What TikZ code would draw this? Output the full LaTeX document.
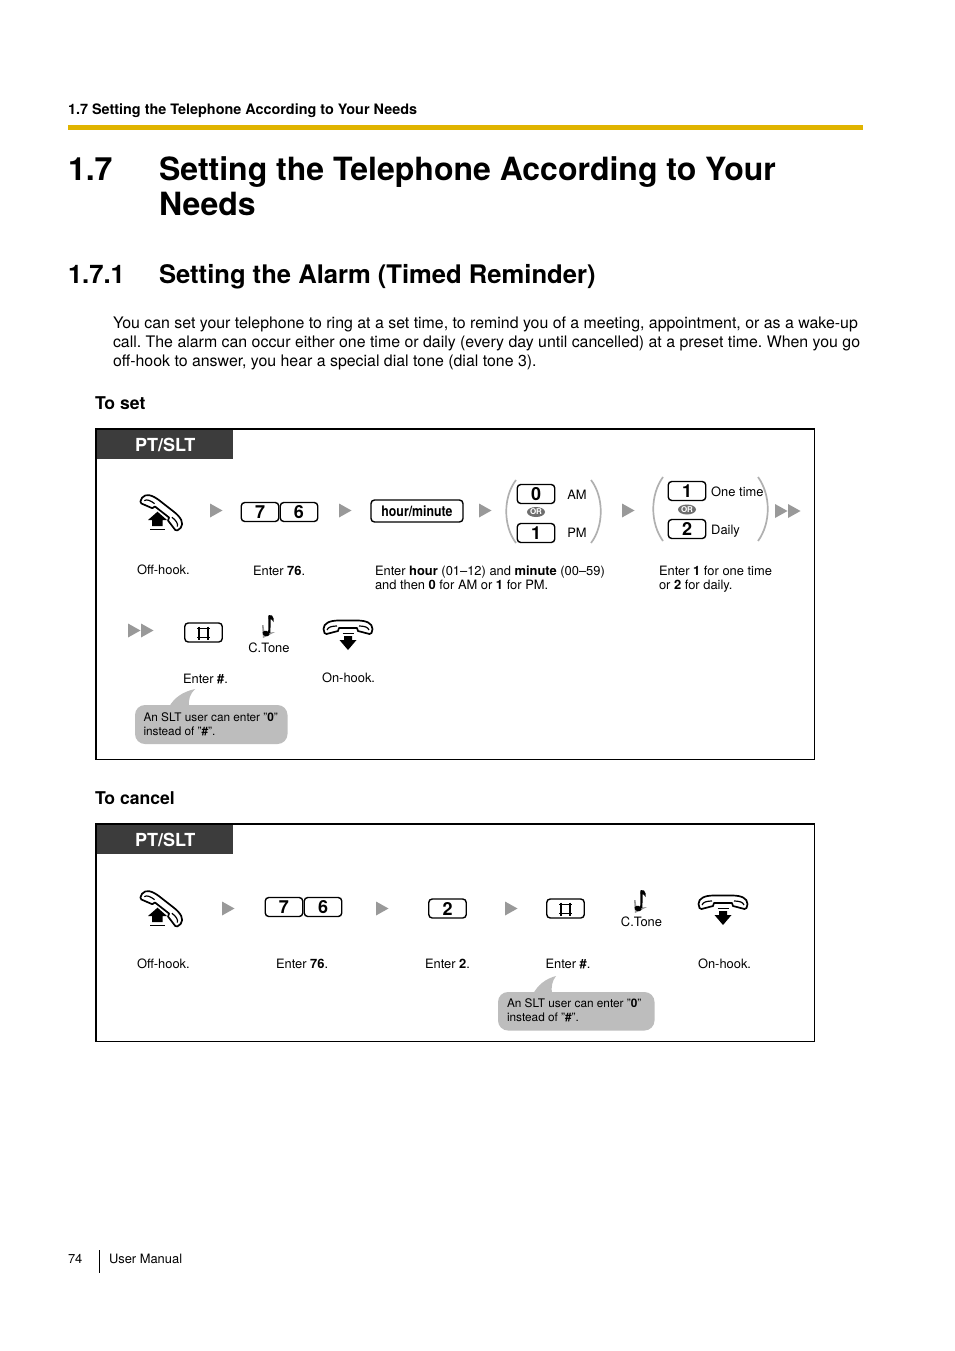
\documentclass[tikz,border=0pt]{standalone}
\usepackage{fontspec}
\usepackage{graphicx}
\setmainfont{TeX Gyre Heros}
\usetikzlibrary{shapes.geometric}
\definecolor{rulegold}{HTML}{E0B400}
\definecolor{headdark}{HTML}{3C3C3C}
\definecolor{arrowgray}{HTML}{999999}
\definecolor{bubblegray}{HTML}{BDBDBD}
\definecolor{parengray}{HTML}{B0B0B0}
\definecolor{orgray}{HTML}{6E6E6E}
\newcommand{\fsz}[1]{\fontsize{#1}{#1}\selectfont}
\frenchspacing
\tikzset{
  x=1pt,y=-1pt,
  txt/.style={anchor=base west,inner sep=0pt,outer sep=0pt,text=black},
  captxt/.style={txt,font=\fsz{12.9}},
  sidecap/.style={anchor=base west,inner sep=0pt,font=\fsz{12.9}},
  midcap/.style={anchor=base,inner sep=0pt,font=\fsz{12.9}},
  bubtxt/.style={txt,font=\fsz{11.8}},
  headtxt/.style={txt,font=\bfseries\fsz{17.6}},
  keybox/.style={draw=black,line width=1.4pt,rounded corners=3.5pt,fill=white,minimum width=37.5pt,minimum height=19pt,inner sep=0pt,font=\bfseries\fsz{18}},
  hourkey/.style={keybox,minimum width=92pt,minimum height=22pt,font=\bfseries\fsz{14.5}},
  orbox/.style={ellipse,fill=orgray,text=white,minimum width=18pt,minimum height=10pt,inner sep=0pt,font=\bfseries\fsz{8}},
  parenline/.style={draw=parengray,line width=1.7pt},
  framebox/.style={draw=black,line width=1.1pt},
  headbox/.style={fill=headdark,text=white,minimum width=136pt,minimum height=29pt,inner sep=0pt,font=\bfseries\fsz{18}},
  bubble/.style={fill=bubblegray,rounded corners=10pt},
  tri/.pic={\fill[arrowgray] (-6,-7) -- (6.5,0) -- (-6,7) -- cycle;},
  handset/.pic={
    \draw[line width=1.7pt,fill=white,line join=round]
      (-24.5,1) .. controls (-24.5,-5) and (-18,-7.5) .. (-9,-7.5)
      -- (9,-7.5) .. controls (18,-7.5) and (24.5,-5) .. (24.5,1)
      -- (23.5,5) -- (21.5,6) -- (10,3) -- (9,0) -- (-9,0) -- (-10,3) -- (-21.5,6) -- (-23.5,5) -- cycle;
    \draw[line width=1.2pt] (-21,2) .. controls (-20,-1) and (-16,-2) .. (-11,-2);
    \draw[line width=1.2pt] (21,2) .. controls (20,-1) and (16,-2) .. (11,-2);
  },
  onhook/.pic={
    \pic at (0,0) {handset};
    \draw[line width=1.4pt] (-5.5,5.5) -- (6,5.5);
    \fill[black] (-4,8) -- (4,8) -- (4,12) -- (8.5,12) -- (0,22) -- (-8.5,12) -- (-4,12) -- cycle;
  },
  offhook/.pic={
    \pic[rotate=-38] at (0,-1) {handset};
    \fill[black] (-4.5,-1.3) -- (5,7) -- (0.5,7) -- (0.5,13) -- (-10,13) -- (-10,7) -- (-14,7) -- cycle;
    \draw[line width=1.3pt] (-12,16.5) -- (3,16.5);
  },
  hashmark/.pic={
    \draw[line width=1.6pt] (-4.3,-6.5) -- (-4.3,6.5) (4.3,-6.5) -- (4.3,6.5) (-6.2,-4.4) -- (6.2,-4.4) (-6.2,4.4) -- (6.2,4.4);
  },
  notemark/.pic={
    \fill[arrowgray] (-7,0) -- (-5.5,0) -- (-4.5,8) -- (6,7) -- (-6,13) -- cycle;
    \fill[black,rotate around={-20:(-3,8.5)}] (-3,8.5) ellipse (3.6 and 2.7);
    \draw[line width=2.2pt] (0.3,8) -- (0.6,-9);
    \fill[black] (-0.5,-10) -- (3,-9.5) .. controls (5,-8) and (5,-5) .. (4.5,-3) .. controls (4,-5) and (2.5,-6) .. (-0.5,-6) -- cycle;
  },
}
\begin{document}
\begin{tikzpicture}
\useasboundingbox (0,0) rectangle (954,1351);
\fill[white] (0,0) rectangle (954,1351);

% page header
\node[txt,font=\bfseries\fsz{14.4}] (runhead) at (68,114.5) {1.7 Setting the Telephone According to Your Needs};
\fill[rulegold] (68,125) rectangle (863,130);

% titles
\node[txt,font=\bfseries\fsz{32}] (secno) at (68,181) {1.7};
\node[txt,font=\bfseries\fsz{32}] (sect1) at (159,181) {Setting the Telephone According to Your};
\node[txt,font=\bfseries\fsz{32}] (sect2) at (159,215.5) {Needs};
\node[txt,font=\bfseries\fsz{25.6}] (subno) at (68,283.5) {1.7.1};
\node[txt,font=\bfseries\fsz{25.6}] (subt) at (159,283.5) {Setting the Alarm (Timed Reminder)};

% body
\node[txt,font=\fsz{15.9}] (b1) at (113,328) {You can set your telephone to ring at a set time, to remind you of a meeting, appointment, or as a wake-up};
\node[txt,font=\fsz{15.9}] (b2) at (113,347) {call. The alarm can occur either one time or daily (every day until cancelled) at a preset time. When you go};
\node[txt,font=\fsz{15.9}] (b3) at (113,366) {off-hook to answer, you hear a special dial tone (dial tone 3).};

\node[headtxt] (toset) at (95,409) {To set};
\node[headtxt] (tocancel) at (95,804) {To cancel};

% ===== To set box
\draw[framebox] (96,429) rectangle (814.5,759.5);
\node[headbox,anchor=north west] (hd1) at (97,430) {PT/SLT};

\pic at (162,513) {offhook};
\pic at (216,510.5) {tri};
\node[keybox] (k7a) at (260,512) {7};
\node[keybox] (k6a) at (299,512) {6};
\pic at (345,510.5) {tri};
\node[hourkey] (khm) at (417,511) {\scalebox{0.85}[1]{hour/minute}};
\pic at (485,510.5) {tri};

\draw[parenline] (516,480) .. controls (503,497) and (503,526) .. (516,543);
\draw[parenline] (591,480) .. controls (604,497) and (604,526) .. (591,543);
\node[keybox] (k0) at (536,494) {0};
\node[orbox] (or1) at (536,512) {OR};
\node[keybox] (k1) at (536,533) {1};
\node[midcap] (am) at (577,499) {AM};
\node[midcap] (pm) at (577,537) {PM};
\pic at (628,510.5) {tri};

\draw[parenline] (663,477) .. controls (650,495) and (650,523) .. (663,541);
\draw[parenline] (758,477) .. controls (771,495) and (771,523) .. (758,541);
\node[keybox] (k1b) at (687,491) {1};
\node[orbox] (or2) at (687,509.5) {OR};
\node[keybox] (k2b) at (687,529) {2};
\node[sidecap] (onet) at (711,496) {One time};
\node[sidecap] (daily) at (711,534) {Daily};
\pic at (781,511) {tri};
\pic at (794,511) {tri};

\node[captxt] (c1) at (137,574) {Off-hook.};
\node[captxt] (c2) at (253,575) {Enter \textbf{76}.};
\node[captxt] (c3) at (375,575) {Enter \textbf{hour} (01--12) and \textbf{minute} (00--59)};
\node[captxt] (c3b) at (375,589) {and then \textbf{0} for AM or \textbf{1} for PM.};
\node[captxt] (c4) at (659,575) {Enter \textbf{1} for one time};
\node[captxt] (c4b) at (659,589) {or \textbf{2} for daily.};

\pic at (134,630.5) {tri};
\pic at (147,630.5) {tri};
\node[keybox] (kh1) at (203.5,632.5) {};
\pic at (203.5,633) {hashmark};
\pic at (269,625) {notemark};
\node[midcap] (ct1) at (269,652) {C.Tone};
\pic at (348,628) {onhook};

\node[captxt] (c5) at (183,683) {Enter \textbf{\#}.};
\node[captxt] (c6) at (322,682) {On-hook.};

\fill[bubble,rounded corners=0pt] (195,689) .. controls (182,692) and (174,698) .. (169,707) -- (189,707) .. controls (188,700) and (190,694) .. (195,689) -- cycle;
\fill[bubble] (135,705) rectangle (287.5,744);
\node[bubtxt] (n1) at (143.5,721) {An SLT user can enter "\textbf{0}"};
\node[bubtxt] (n1b) at (143.5,735) {instead of "\textbf{\#}".};

% ===== To cancel box
\draw[framebox] (96,824) rectangle (814.5,1041.5);
\node[headbox,anchor=north west] (hd2) at (97,825) {PT/SLT};

\pic at (162,909) {offhook};
\pic at (228,908.5) {tri};
\node[keybox] (k7c) at (284,907) {7};
\node[keybox] (k6c) at (323,907) {6};
\pic at (382,908.5) {tri};
\node[keybox] (k2c) at (447.5,908.5) {2};
\pic at (511,908.5) {tri};
\node[keybox] (kh2) at (565.5,908.5) {};
\pic at (565.5,909) {hashmark};
\pic at (641,900) {notemark};
\node[midcap] (ct2) at (641.5,926) {C.Tone};
\pic at (723,903) {onhook};

\node[captxt] (d1) at (137,968) {Off-hook.};
\node[captxt] (d2) at (276,968) {Enter \textbf{76}.};
\node[captxt] (d3) at (425,968) {Enter \textbf{2}.};
\node[captxt] (d4) at (545.5,968) {Enter \textbf{\#}.};
\node[captxt] (d5) at (698,968) {On-hook.};

\fill[bubble,rounded corners=0pt] (556,976) .. controls (545,979) and (538,985) .. (533,994) -- (552,994) .. controls (551,987) and (552,981) .. (556,976) -- cycle;
\fill[bubble] (498,992) rectangle (654.5,1030.5);
\node[bubtxt] (n2) at (507,1007) {An SLT user can enter "\textbf{0}"};
\node[bubtxt] (n2b) at (507,1021) {instead of "\textbf{\#}".};

% footer
\node[txt,font=\fsz{12.9}] (pg) at (68,1263) {74};
\draw[black,line width=0.8pt] (99.5,1250) -- (99.5,1273);
\node[txt,font=\fsz{12.9}] (um) at (109,1263) {User Manual};
\end{tikzpicture}
\end{document}
